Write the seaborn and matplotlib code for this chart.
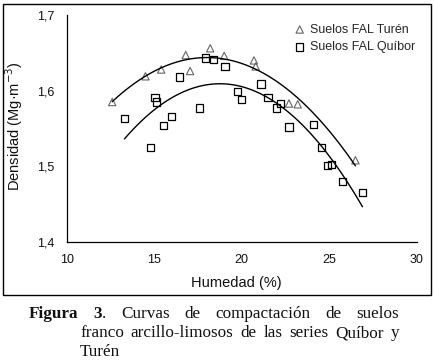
import numpy as np
import pandas as pd
import matplotlib
matplotlib.use("Agg")
import matplotlib.pyplot as plt
from matplotlib.patches import Rectangle
import seaborn as sns

# Turén soils (triangles)
turen_hum = [12.6, 14.5, 15.4, 16.8, 17.05, 18.2, 19.0, 20.7, 20.8, 22.7, 23.2, 26.5]
turen_den = [1.585, 1.619, 1.628, 1.647, 1.626, 1.656, 1.646, 1.640, 1.632, 1.583, 1.582, 1.508]

# Quíbor soils (squares)
quibor_hum = [13.3, 14.8, 15.05, 15.15, 15.55, 16.0, 16.45, 17.6, 17.95, 18.4, 19.05, 19.75,
              20.0, 21.1, 21.5, 22.0, 22.2, 22.7, 24.1, 24.55, 24.9, 25.15, 25.75, 26.9]
quibor_den = [1.563, 1.525, 1.591, 1.585, 1.554, 1.566, 1.618, 1.577, 1.643, 1.641, 1.632, 1.599,
              1.588, 1.609, 1.591, 1.577, 1.583, 1.552, 1.555, 1.525, 1.501, 1.502, 1.480, 1.465]

x_ticks = [10, 15, 20, 25, 30]
y_ticks = [1.4, 1.5, 1.6, 1.7]
y_tick_labels = ["1,4", "1,5", "1,6", "1,7"]

sans = "Liberation Sans"
serif = "Liberation Serif"

sns.set_style("white")
plt.rcParams["font.family"] = [sans, "DejaVu Sans"]

W, H = 434, 363
fig = plt.figure(figsize=(W / 100, H / 100), dpi=100)
ax = fig.add_axes([66.7 / W, 1 - 242 / H, 350 / W, 227 / H])

turen = pd.DataFrame({"hum": turen_hum, "den": turen_den})
quibor = pd.DataFrame({"hum": quibor_hum, "den": quibor_den})

sns.regplot(data=turen, x="hum", y="den", order=2, ci=None, truncate=True, ax=ax,
            marker="^", label="Suelos FAL Turén",
            scatter_kws={"s": 28, "facecolors": "none", "edgecolors": "#666666",
                         "linewidths": 0.8, "alpha": 1},
            line_kws={"color": "black", "lw": 1.0})
sns.regplot(data=quibor, x="hum", y="den", order=2, ci=None, truncate=True, ax=ax,
            marker="s", label="Suelos FAL Quíbor",
            scatter_kws={"s": 28, "facecolors": "none", "edgecolors": "black",
                         "linewidths": 0.9, "alpha": 1},
            line_kws={"color": "black", "lw": 1.0})

ax.set_xlim(10, 30)
ax.set_ylim(1.4, 1.7)
ax.set_xticks(x_ticks)
ax.set_yticks(y_ticks)
ax.set_yticklabels(y_tick_labels)
sns.despine(ax=ax)
for s in ["left", "bottom"]:
    ax.spines[s].set_color("black")
    ax.spines[s].set_linewidth(0.9)
ax.tick_params(axis="both", direction="out", length=3.5, width=0.8, color="black",
               labelsize=9, labelcolor="#111111")
ax.tick_params(axis="x", pad=5)
ax.tick_params(axis="y", pad=5.5)

ax.set_xlabel("Humedad (%)", fontsize=10.5, color="#111111")
ax.set_ylabel("Densidad (Mg·m$^{-3}$)", fontsize=10.5, color="#111111")
ax.xaxis.set_label_coords(0.486, -0.15)
ax.yaxis.set_label_coords(-0.12, 0.51)

leg = ax.legend(loc="upper right", bbox_to_anchor=(1.02, 1.0), frameon=False, fontsize=9,
                handletextpad=0.2, labelspacing=0.45, borderaxespad=0.3, handlelength=1.2)

# outer frame around chart
fig.patches.append(Rectangle((3 / W, 1 - 295 / H), 428 / W, 291 / H, transform=fig.transFigure,
                             fill=False, edgecolor="black", linewidth=1.0))

# caption, justified like the source
renderer = fig.canvas.get_renderer()
cap_size = 12.3


def caption_line(words, base_y, x0, x1, justify=True):
    made = []
    for w in words:
        parts = []
        for txt, wt in w:
            t = fig.text(0, 1 - base_y / H, txt, fontfamily=serif, fontsize=cap_size,
                         fontweight=wt, va="baseline", ha="left", color="#111111")
            parts.append((t, t.get_window_extent(renderer).width))
        made.append(parts)
    widths = [sum(p[1] for p in parts) for parts in made]
    if justify and len(made) > 1:
        gap = (x1 - x0 - sum(widths)) / (len(made) - 1)
    else:
        gap = 3.0
    x = x0
    for parts, wd in zip(made, widths):
        xx = x
        for t, tw in parts:
            t.set_x(xx / W)
            xx += tw
        x += wd + gap


line1 = [[("Figura", "bold")], [("3", "bold"), (".", "normal")], [("Curvas", "normal")],
         [("de", "normal")], [("compactación", "normal")], [("de", "normal")], [("suelos", "normal")]]
line2 = [[(w, "normal")] for w in "franco arcillo-limosos de las series Quíbor y".split()]
line3 = [[("Turén", "normal")]]
caption_line(line1, 318, 29, 399)
caption_line(line2, 337, 80, 399)
caption_line(line3, 356, 80, 399, justify=False)

fig.savefig("out.png", dpi=100)
